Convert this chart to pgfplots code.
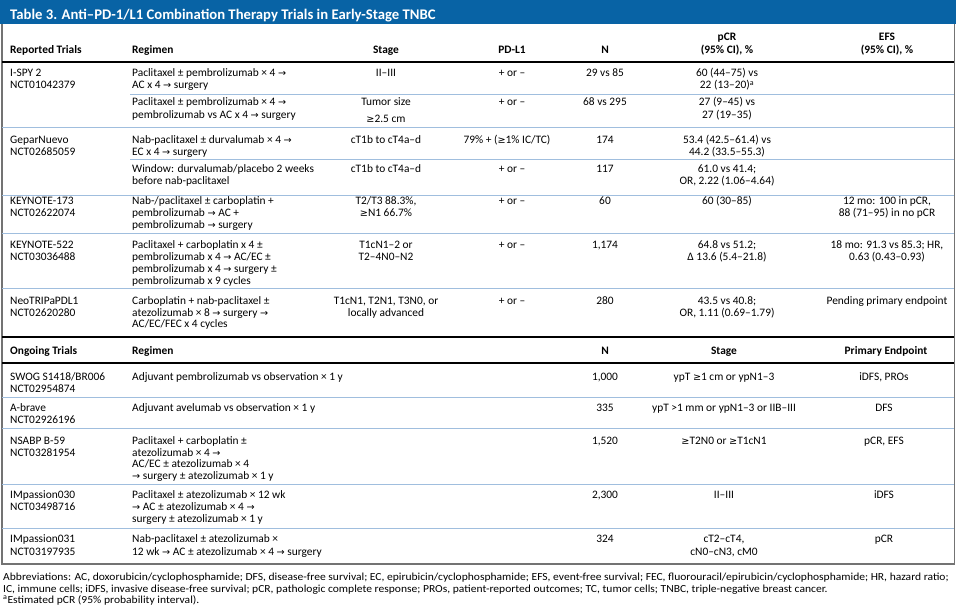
\documentclass[border=0pt]{standalone}
\usepackage{pgfplots}
\pgfplotsset{compat=1.18}
\usepackage{fontspec}
\setmainfont{Carlito}
\newfontfamily\fnfont{Carlito}[FakeStretch=1.07]
\newfontfamily\sym{DejaVu Sans}[Scale=0.85]
\definecolor{titleblue}{RGB}{8,99,165}
\definecolor{seplight}{RGB}{160,190,222}
\definecolor{framegray}{RGB}{115,115,115}
\newcommand{\ar}{{\sym →}}
\newcommand{\gq}{{\sym ≥}}
\tikzset{
  tl/.style={anchor=base west,inner sep=0pt,font=\fontsize{11.4}{12}\selectfont},
  tc/.style={anchor=base,inner sep=0pt,font=\fontsize{11.4}{12}\selectfont},
  hl/.style={anchor=base west,inner sep=0pt,font=\fontsize{11.4}{12}\selectfont\bfseries},
  hc/.style={anchor=base,inner sep=0pt,font=\fontsize{11.4}{12}\selectfont\bfseries},
  fn/.style={anchor=base west,inner sep=0pt,font=\fnfont\fontsize{10.8}{11}\selectfont},
}
\newcommand{\tL}[3]{\node[tl] at (axis cs:#1,#2) {#3};}
\newcommand{\tC}[3]{\node[tc] at (axis cs:#1,#2) {#3};}
\newcommand{\hL}[3]{\node[hl] at (axis cs:#1,#2) {#3};}
\newcommand{\hC}[3]{\node[hc] at (axis cs:#1,#2) {#3};}
\newcommand{\sepP}[1]{\draw[seplight,line width=1pt] (axis cs:130,#1) -- (axis cs:954,#1);}
\newcommand{\sepF}[1]{\draw[seplight,line width=1pt] (axis cs:2,#1) -- (axis cs:954,#1);}
\newcommand{\thick}[1]{\draw[black,line width=2.2pt] (axis cs:2,#1) -- (axis cs:954,#1);}
\begin{document}
\begin{tikzpicture}
\begin{axis}[scale only axis, width=962pt, height=609pt,
  xmin=0, xmax=962, ymin=0, ymax=609, y dir=reverse,
  axis lines=none, clip=false]
\path[fill=white] (axis cs:0,0) rectangle (axis cs:962,609);
% title bar
\fill[titleblue] (axis cs:0,0) rectangle (axis cs:956,24.5);
\node[anchor=base west,inner sep=0pt,text=white,font=\fontsize{14.7}{16}\selectfont\bfseries]
  at (axis cs:10,19.5) {Table 3. Anti–PD-1/L1 Combination Therapy Trials in Early-Stage TNBC};
% frame
\draw[framegray,line width=1.2pt] (axis cs:2,24.5) -- (axis cs:2,564) -- (axis cs:954.5,564) -- (axis cs:954.5,24.5);
% ---- reported trials header
\hL{10}{54}{Reported Trials}
\hL{132}{54}{Regimen}
\hC{386}{54}{Stage}
\hC{512}{54}{PD-L1}
\hC{605}{54}{N}
\hC{727}{41}{pCR}
\hC{727}{54}{(95\% CI), \%}
\hC{887}{41}{EFS}
\hC{887}{54}{(95\% CI), \%}
\thick{62}
% I-SPY 2
\tL{10}{77}{I-SPY 2}
\tL{10}{89}{NCT01042379}
\tL{132}{77}{Paclitaxel ± pembrolizumab × 4 \ar}
\tL{132}{89}{AC x 4 \ar\ surgery}
\tC{386}{77}{II–III}
\tC{512}{77}{+ or –}
\tC{605}{77}{29 vs 85}
\tC{727}{77}{60 (44–75) vs}
\tC{727}{89}{22 (13–20)\textsuperscript{a}}
\sepP{95}
\tL{132}{106}{Paclitaxel ± pembrolizumab × 4 \ar}
\tL{132}{118.5}{pembrolizumab vs AC x 4 \ar\ surgery}
\tC{386}{106}{Tumor size}
\tC{386}{123}{\gq2.5 cm}
\tC{512}{106}{+ or –}
\tC{605}{106}{68 vs 295}
\tC{727}{106}{27 (9–45) vs}
\tC{727}{118.5}{27 (19–35)}
\sepF{128}
% GeparNuevo
\tL{10}{144}{GeparNuevo}
\tL{10}{156}{NCT02685059}
\tL{132}{144}{Nab-paclitaxel ± durvalumab × 4 \ar}
\tL{132}{156}{EC x 4 \ar\ surgery}
\tC{386}{144}{cT1b to cT4a–d}
\tC{507}{144}{79\% + (\gq1\% IC/TC)}
\tC{605}{144}{174}
\tC{727}{144}{53.4 (42.5–61.4) vs}
\tC{727}{156}{44.2 (33.5–55.3)}
\sepP{160}
\tL{132}{173}{Window: durvalumab/placebo 2 weeks}
\tL{132}{185}{before nab-paclitaxel}
\tC{386}{173}{cT1b to cT4a–d}
\tC{512}{173}{+ or –}
\tC{605}{173}{117}
\tC{727}{173}{61.0 vs 41.4;}
\tC{727}{185}{OR, 2.22 (1.06–4.64)}
\sepF{196}
% KEYNOTE-173
\tL{10}{205}{KEYNOTE-173}
\tL{10}{217}{NCT02622074}
\tL{132}{205}{Nab-/paclitaxel ± carboplatin +}
\tL{132}{217}{pembrolizumab \ar\ AC +}
\tL{132}{229}{pembrolizumab \ar\ surgery}
\tC{386}{205}{T2/T3 88.3\%,}
\tC{386}{217}{\gq N1 66.7\%}
\tC{512}{205}{+ or –}
\tC{605}{205}{60}
\tC{727}{205}{60 (30–85)}
\tC{887}{205}{12 mo: 100 in pCR,}
\tC{887}{217}{88 (71–95) in no pCR}
\sepF{234}
% KEYNOTE-522
\tL{10}{249}{KEYNOTE-522}
\tL{10}{261}{NCT03036488}
\tL{132}{249}{Paclitaxel + carboplatin x 4 ±}
\tL{132}{261}{pembrolizumab x 4 \ar\ AC/EC ±}
\tL{132}{273}{pembrolizumab x 4 \ar\ surgery ±}
\tL{132}{285}{pembrolizumab x 9 cycles}
\tC{386}{249}{T1cN1–2 or}
\tC{386}{261}{T2–4N0–N2}
\tC{512}{249}{+ or –}
\tC{605}{249}{1,174}
\tC{727}{249}{64.8 vs 51.2;}
\tC{727}{261}{Δ 13.6 (5.4–21.8)}
\tC{887}{249}{18 mo: 91.3 vs 85.3; HR,}
\tC{887}{261}{0.63 (0.43–0.93)}
\sepF{289}
% NeoTRIPaPDL1
\tL{10}{305}{NeoTRIPaPDL1}
\tL{10}{317}{NCT02620280}
\tL{132}{305}{Carboplatin + nab-paclitaxel ±}
\tL{132}{317}{atezolizumab × 8 \ar\ surgery \ar}
\tL{132}{328}{AC/EC/FEC x 4 cycles}
\tC{386}{305}{T1cN1, T2N1, T3N0, or}
\tC{386}{317}{locally advanced}
\tC{512}{305}{+ or –}
\tC{605}{305}{280}
\tC{727}{305}{43.5 vs 40.8;}
\tC{727}{317}{OR, 1.11 (0.69–1.79)}
\tC{887}{305}{Pending primary endpoint}
\draw[black,line width=2.6pt] (axis cs:2,337) -- (axis cs:954,337);
% ---- ongoing trials
\hL{10}{355}{Ongoing Trials}
\hL{132}{355}{Regimen}
\hC{605}{355}{N}
\hC{724}{355}{Stage}
\hC{886}{355}{Primary Endpoint}
\thick{363}
\tL{10}{381}{SWOG S1418/BR006}
\tL{10}{393}{NCT02954874}
\tL{132}{381}{Adjuvant pembrolizumab vs observation × 1 y}
\tC{605}{381}{1,000}
\tC{724}{381}{ypT \gq1 cm or ypN1–3}
\tC{884}{381}{iDFS, PROs}
\sepF{398}
\tL{10}{412}{A-brave}
\tL{10}{424}{NCT02926196}
\tL{132}{412}{Adjuvant avelumab vs observation × 1 y}
\tC{605}{412}{335}
\tC{724}{412}{ypT >1 mm or ypN1–3 or IIB–III}
\tC{884}{412}{DFS}
\sepF{429}
\tL{10}{445}{NSABP B-59}
\tL{10}{457}{NCT03281954}
\tL{132}{445}{Paclitaxel + carboplatin ±}
\tL{132}{457}{atezolizumab × 4 \ar}
\tL{132}{468}{AC/EC ± atezolizumab × 4}
\tL{132}{480}{\ar\ surgery ± atezolizumab × 1 y}
\tC{605}{445}{1,520}
\tC{724}{445}{\gq T2N0 or \gq T1cN1}
\tC{884}{445}{pCR, EFS}
\sepF{485}
\tL{10}{499}{IMpassion030}
\tL{10}{511}{NCT03498716}
\tL{132}{499}{Paclitaxel ± atezolizumab × 12 wk}
\tL{132}{511}{\ar\ AC ± atezolizumab × 4 \ar}
\tL{132}{523}{surgery ± atezolizumab × 1 y}
\tC{605}{499}{2,300}
\tC{724}{499}{II–III}
\tC{884}{499}{iDFS}
\sepF{529}
\tL{10}{543}{IMpassion031}
\tL{10}{555}{NCT03197935}
\tL{132}{543}{Nab-paclitaxel ± atezolizumab ×}
\tL{132}{555}{12 wk \ar\ AC ± atezolizumab × 4 \ar\ surgery}
\tC{605}{543}{324}
\tC{724}{543}{cT2–cT4,}
\tC{724}{555}{cN0–cN3, cM0}
\tC{884}{543}{pCR}
% footnotes
\node[fn] at (axis cs:3,580.5) {Abbreviations: AC, doxorubicin/cyclophosphamide; DFS, disease-free survival; EC, epirubicin/cyclophosphamide; EFS, event-free survival; FEC, fluorouracil/epirubicin/cyclophosphamide; HR, hazard ratio;};
\node[fn] at (axis cs:3,592) {IC, immune cells; iDFS, invasive disease-free survival; pCR, pathologic complete response; PROs, patient-reported outcomes; TC, tumor cells; TNBC, triple-negative breast cancer.};
\node[fn] at (axis cs:3,603) {\textsuperscript{a}Estimated pCR (95\% probability interval).};
\end{axis}
\end{tikzpicture}
\end{document}
